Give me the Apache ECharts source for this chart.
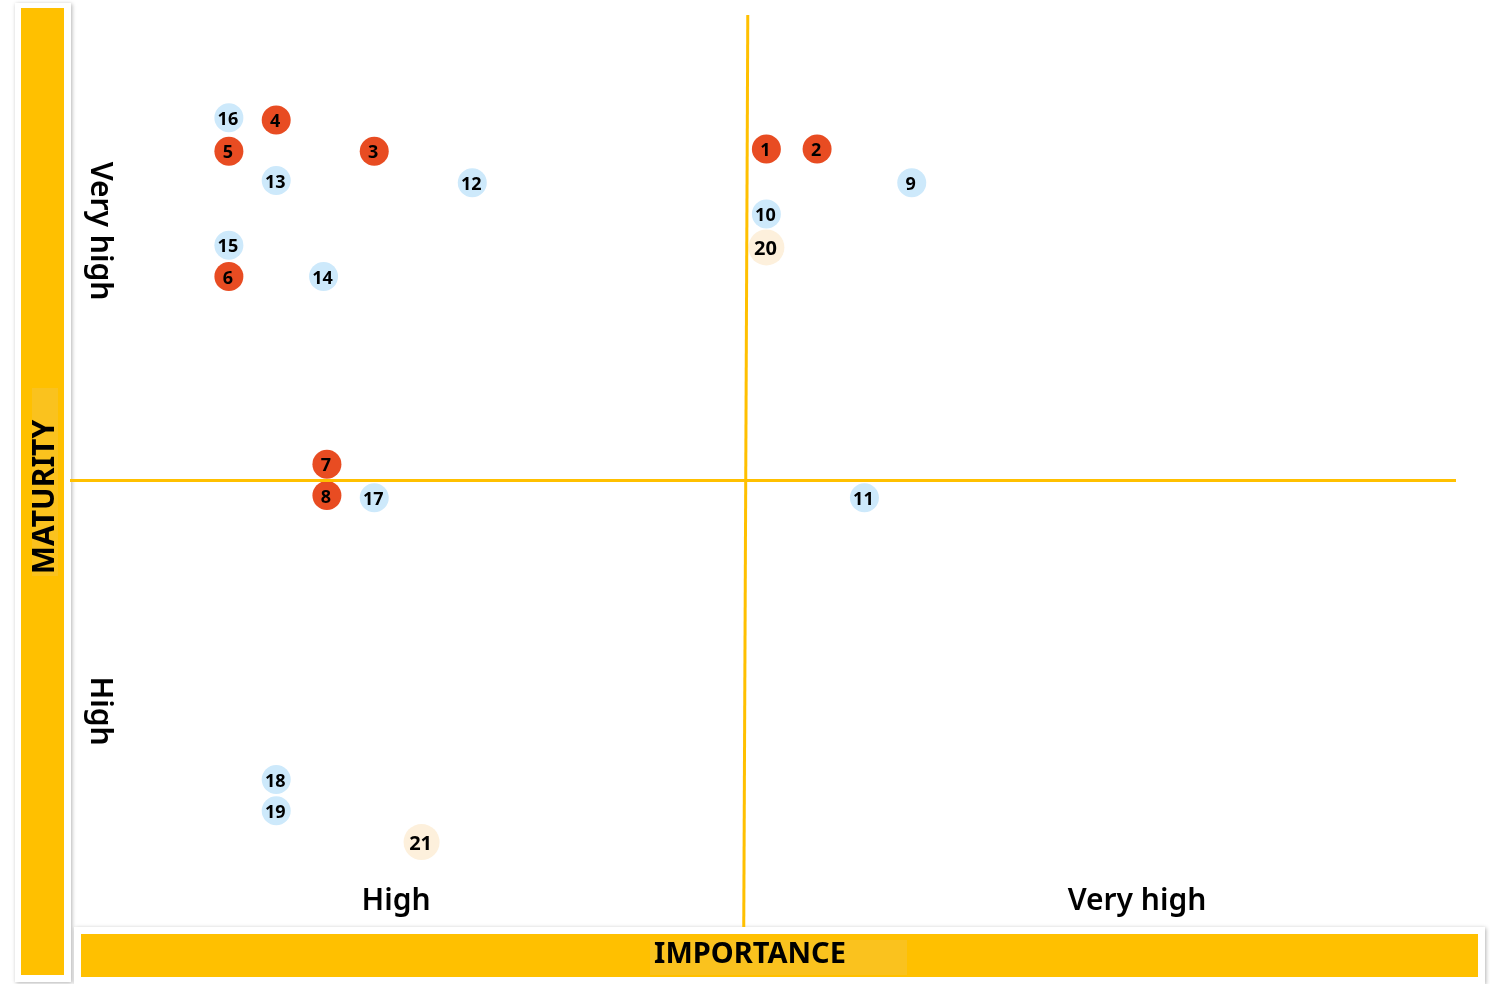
<!DOCTYPE html>
<html>
<head>
<meta charset="utf-8">
<title>Importance vs Maturity</title>
<script src="https://cdn.jsdelivr.net/npm/echarts@6/dist/echarts.min.js"></script>
<style>
  html, body { margin: 0; padding: 0; background: #fff; }
  #chart { width: 1490px; height: 984px; }
</style>
</head>
<body>
<div id="chart"></div>
<script>
// Item numbers with their importance (x) and maturity (y) scores
const itemIds    = ['1','2','3','4','5','6','7','8','9','10','11','12','13','14','15','16','17','18','19','20','21'];
const importance = [2.06,2.21,0.90,0.61,0.47,0.47,0.76,0.76,2.49,2.06,2.35,1.19,0.61,0.75,0.47,0.47,0.90,0.61,0.61,2.06,1.04];
const maturity   = [3.48,3.48,3.47,3.61,3.47,2.91,2.07,1.93,3.33,3.19,1.92,3.33,3.34,2.91,3.05,3.62,1.92,0.66,0.52,3.04,0.38];
// 0 = red group, 1 = blue group, 2 = cream group
const itemGroup  = [0,0,0,0,0,0,0,0,1,1,1,1,1,1,1,1,1,1,1,2,2];

const groupNames  = ['A', 'B', 'C'];
const groupColors = ['#E84C22', '#CDE9FB', '#FDF0DC'];
const groupSizes  = [29, 29, 36];

// Quadrant dividers and axis extents
const xMax = 4.1, yMax = 4.08, xSplit = 2.0, ySplit = 2.0;
const xLevelLabels = ['High', 'Very high'];
const yLevelLabels = ['Very high', 'High'];
const xTitle = 'IMPORTANCE';
const yTitle = 'MATURITY';

const YELLOW = '#FFC000';
const FONT = '"Noto Sans", "Open Sans", sans-serif';

const chart = echarts.init(document.getElementById('chart'), null, { renderer: 'canvas' });

const series = groupNames.map((g, gi) => ({
  name: g,
  type: 'scatter',
  symbolSize: groupSizes[gi],
  itemStyle: { color: groupColors[gi], opacity: 1 },
  label: {
    show: true,
    position: 'inside',
    offset: [-1, 2],
    formatter: p => p.data[2],
    color: '#000',
    fontFamily: FONT,
    fontWeight: 'bold',
    fontSize: gi === 2 ? 20 : 18
  },
  z: 3,
  data: itemIds
    .map((id, i) => [importance[i], maturity[i], id, itemGroup[i]])
    .filter(d => d[3] === gi)
}));

// Quadrant divider lines
series.push({
  type: 'scatter',
  data: [],
  silent: true,
  z: 2,
  markLine: {
    silent: true,
    symbol: 'none',
    label: { show: false },
    lineStyle: { color: YELLOW, width: 3, type: 'solid' },
    data: [
      [{ coord: [xSplit + 0.005, yMax] }, { coord: [xSplit - 0.007, 0] }],
      [{ coord: [0, ySplit] }, { coord: [xMax, ySplit] }]
    ]
  }
});

chart.setOption({
  animation: false,
  backgroundColor: '#ffffff',
  grid: { left: 70, right: 34, top: 15, bottom: 57 },
  xAxis: {
    type: 'value', min: 0, max: xMax,
    axisLine: { show: false }, axisTick: { show: false },
    axisLabel: { show: false }, splitLine: { show: false }
  },
  yAxis: {
    type: 'value', min: 0, max: yMax,
    axisLine: { show: false }, axisTick: { show: false },
    axisLabel: { show: false }, splitLine: { show: false }
  },
  series: series,
  graphic: [
    // left title band
    { type: 'rect', shape: { x: 15, y: 3, width: 56, height: 979 },
      style: { fill: '#fff', shadowBlur: 4, shadowColor: 'rgba(0,0,0,0.3)', shadowOffsetX: 1, shadowOffsetY: 1 }, z: 0 },
    { type: 'rect', shape: { x: 21, y: 8, width: 43, height: 967 },
      style: { fill: YELLOW }, z: 1 },
    { type: 'rect', shape: { x: 32, y: 388, width: 26, height: 188 },
      style: { fill: '#FAC21E' }, z: 1 },
    { type: 'text', x: 45, y: 497, rotation: Math.PI / 2, z: 2,
      style: { text: yTitle, fill: '#000', font: 'bold 30px ' + FONT, align: 'center', verticalAlign: 'middle' } },
    // bottom title band
    { type: 'rect', shape: { x: 74, y: 927, width: 1411, height: 57 },
      style: { fill: '#fff', shadowBlur: 4, shadowColor: 'rgba(0,0,0,0.3)', shadowOffsetX: 1, shadowOffsetY: 1 }, z: 0 },
    { type: 'rect', shape: { x: 81, y: 934, width: 1397, height: 43 },
      style: { fill: YELLOW }, z: 1 },
    { type: 'rect', shape: { x: 650, y: 940, width: 257, height: 35 },
      style: { fill: '#FAC21E' }, z: 1 },
    { type: 'text', x: 750, y: 955, z: 2,
      style: { text: xTitle, fill: '#000', font: 'bold 29px ' + FONT, align: 'center', verticalAlign: 'middle' } },
    // level labels
    { type: 'text', x: 396, y: 901, z: 2,
      style: { text: xLevelLabels[0], fill: '#000', font: '600 30px ' + FONT, align: 'center', verticalAlign: 'middle' } },
    { type: 'text', x: 1137, y: 901, z: 2,
      style: { text: xLevelLabels[1], fill: '#000', font: '600 30px ' + FONT, align: 'center', verticalAlign: 'middle' } },
    { type: 'text', x: 100, y: 231, rotation: -Math.PI / 2, z: 2,
      style: { text: yLevelLabels[0], fill: '#000', font: '600 30px ' + FONT, align: 'center', verticalAlign: 'middle' } },
    { type: 'text', x: 100, y: 711, rotation: -Math.PI / 2, z: 2,
      style: { text: yLevelLabels[1], fill: '#000', font: '600 30px ' + FONT, align: 'center', verticalAlign: 'middle' } }
  ]
});
</script>
</body>
</html>
